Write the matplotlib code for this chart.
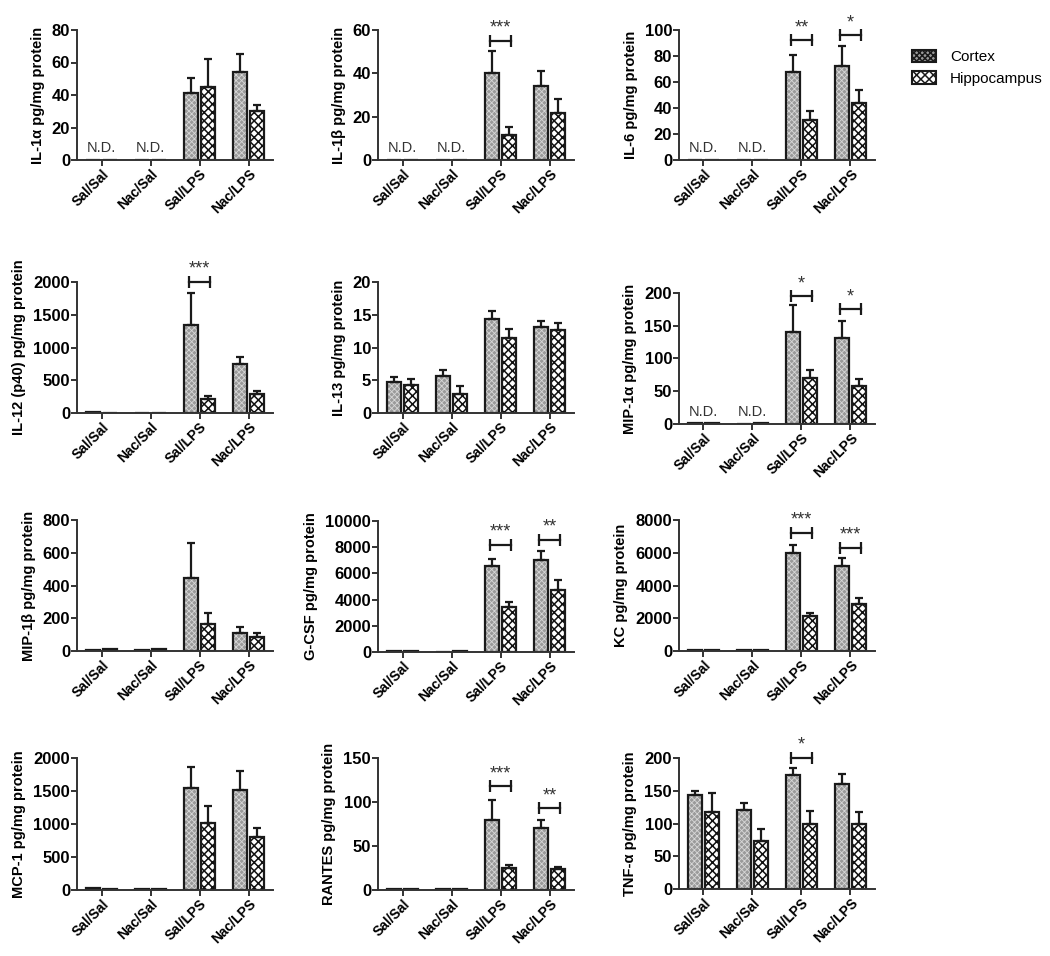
import numpy as np
import matplotlib
matplotlib.use("Agg")
import matplotlib.pyplot as plt
from matplotlib.patches import Patch

plt.rcParams['font.family'] = ['Liberation Sans', 'DejaVu Sans']
plt.rcParams['hatch.linewidth'] = 1.0

groups = ['Sal/Sal', 'Nac/Sal', 'Sal/LPS', 'Nac/LPS']

# mean / SEM (0 = not detected)
il1a_ctx = [0, 0, 41, 54]
il1a_ctx_err = [0, 0, 9.5, 11.5]
il1a_hip = [0, 0, 45, 30]
il1a_hip_err = [0, 0, 17, 4]

il1b_ctx = [0, 0, 40, 34]
il1b_ctx_err = [0, 0, 10.5, 7]
il1b_hip = [0, 0, 11.5, 21.5]
il1b_hip_err = [0, 0, 3.8, 6.5]

il6_ctx = [0, 0, 68, 72]
il6_ctx_err = [0, 0, 13, 16]
il6_hip = [0, 0, 31, 43.5]
il6_hip_err = [0, 0, 6.5, 10]

il12_ctx = [8, 6, 1350, 750]
il12_ctx_err = [0, 0, 480, 105]
il12_hip = [6, 0, 220, 290]
il12_hip_err = [0, 0, 35, 50]

il13_ctx = [4.8, 5.6, 14.4, 13.1]
il13_ctx_err = [0.7, 0.9, 1.2, 1.0]
il13_hip = [4.2, 2.9, 11.4, 12.7]
il13_hip_err = [1.0, 1.2, 1.5, 1.1]

mip1a_ctx = [1, 0, 141, 132]
mip1a_ctx_err = [0, 0, 40, 25]
mip1a_hip = [1, 1, 70, 58]
mip1a_hip_err = [0, 0, 13, 10]

mip1b_ctx = [5, 4, 447, 110]
mip1b_ctx_err = [0, 0, 210, 37]
mip1b_hip = [10, 10, 163, 84]
mip1b_hip_err = [0, 0, 70, 28]

gcsf_ctx = [80, 0, 6550, 7000]
gcsf_ctx_err = [0, 0, 550, 700]
gcsf_hip = [80, 80, 3450, 4750]
gcsf_hip_err = [0, 0, 400, 750]

kc_ctx = [80, 50, 6000, 5200]
kc_ctx_err = [0, 0, 450, 450]
kc_hip = [80, 50, 2150, 2850]
kc_hip_err = [0, 0, 200, 400]

mcp1_ctx = [25, 10, 1550, 1510]
mcp1_ctx_err = [0, 0, 320, 300]
mcp1_hip = [20, 10, 1020, 810]
mcp1_hip_err = [0, 0, 260, 130]

rantes_ctx = [1.5, 1, 80, 70]
rantes_ctx_err = [0, 0, 22, 10]
rantes_hip = [1.5, 1, 25, 23.5]
rantes_hip_err = [0, 0, 3, 2.5]

tnf_ctx = [143, 121, 174, 160]
tnf_ctx_err = [7, 10, 10, 15]
tnf_hip = [118, 73, 99, 99]
tnf_hip_err = [29, 18, 20, 18]

# (group index, stars, bracket height)
il1b_sig = [(2, '***', 55)]
il6_sig = [(2, '**', 92), (3, '*', 96)]
il12_sig = [(2, '***', 2000)]
mip1a_sig = [(2, '*', 195), (3, '*', 175)]
gcsf_sig = [(2, '***', 8200), (3, '**', 8550)]
kc_sig = [(2, '***', 7200), (3, '***', 6300)]
rantes_sig = [(2, '***', 118), (3, '**', 93)]
tnf_sig = [(2, '*', 200)]

panels = [
    ('IL-1\u03b1 pg/mg protein', il1a_ctx, il1a_ctx_err, il1a_hip, il1a_hip_err, 80, 20, [], True),
    ('IL-1\u03b2 pg/mg protein', il1b_ctx, il1b_ctx_err, il1b_hip, il1b_hip_err, 60, 20, il1b_sig, True),
    ('IL-6 pg/mg protein', il6_ctx, il6_ctx_err, il6_hip, il6_hip_err, 100, 20, il6_sig, True),
    ('IL-12 (p40) pg/mg protein', il12_ctx, il12_ctx_err, il12_hip, il12_hip_err, 2000, 500, il12_sig, False),
    ('IL-13 pg/mg protein', il13_ctx, il13_ctx_err, il13_hip, il13_hip_err, 20, 5, [], False),
    ('MIP-1\u03b1 pg/mg protein', mip1a_ctx, mip1a_ctx_err, mip1a_hip, mip1a_hip_err, 200, 50, mip1a_sig, True),
    ('MIP-1\u03b2 pg/mg protein', mip1b_ctx, mip1b_ctx_err, mip1b_hip, mip1b_hip_err, 800, 200, [], False),
    ('G-CSF pg/mg protein', gcsf_ctx, gcsf_ctx_err, gcsf_hip, gcsf_hip_err, 10000, 2000, gcsf_sig, False),
    ('KC pg/mg protein', kc_ctx, kc_ctx_err, kc_hip, kc_hip_err, 8000, 2000, kc_sig, False),
    ('MCP-1 pg/mg protein', mcp1_ctx, mcp1_ctx_err, mcp1_hip, mcp1_hip_err, 2000, 500, [], False),
    ('RANTES pg/mg protein', rantes_ctx, rantes_ctx_err, rantes_hip, rantes_hip_err, 150, 50, rantes_sig, False),
    ('TNF-\u03b1 pg/mg protein', tnf_ctx, tnf_ctx_err, tnf_hip, tnf_hip_err, 200, 50, tnf_sig, False),
]

W, H = 1050, 956
fig = plt.figure(figsize=(W / 100, H / 100), dpi=100)

col_left = [77, 378, 679]
row_box = [[(30, 160)] * 3,
           [(282, 413), (282, 413), (293, 424)],
           [(520, 651), (521, 652), (520, 651)],
           [(758, 890), (758, 890), (758, 889)]]
ax_w = 196

ctx_face, ctx_hatch = '#9a9a9a', '#d8d8d8'
hip_face, hip_hatch = 'white', '#111111'
bw = 0.28
off = 0.18
x = np.arange(len(groups))

for i, (label, c, ce, h, he, ymax, step, sig, nd) in enumerate(panels):
    r, cidx = divmod(i, 3)
    top, bot = row_box[r][cidx]
    ax = fig.add_axes([col_left[cidx] / W, 1 - bot / H, ax_w / W, (bot - top) / H])

    c = np.array(c, float)
    h = np.array(h, float)
    plt.rcParams['hatch.linewidth'] = 0.6
    ax.bar(x - off, c, bw, facecolor=ctx_face, edgecolor=ctx_hatch, hatch='xxxxxx', linewidth=0)
    plt.rcParams['hatch.linewidth'] = 1.1
    ax.bar(x + off, h, bw, facecolor=hip_face, edgecolor=hip_hatch, hatch='xxxx', linewidth=0)
    ax.bar(x - off, c, bw, fill=False, edgecolor='#1a1a1a', linewidth=1.6)
    ax.bar(x + off, h, bw, fill=False, edgecolor='#1a1a1a', linewidth=1.6)

    for xs, m, e in ((x - off, c, ce), (x + off, h, he)):
        e = np.array(e, float)
        mask = e > 0
        ax.errorbar(xs[mask], m[mask], yerr=[np.zeros(mask.sum()), e[mask]], fmt='none',
                    ecolor='#1a1a1a', elinewidth=1.6, capsize=3, capthick=1.6)

    if nd:
        for g in (0, 1):
            ax.text(g, ymax * 0.04, 'N.D.', ha='center', va='bottom', fontsize=10.5, color='#333333')

    for g, stars, yb in sig:
        ax.plot([g - 0.22, g + 0.22], [yb, yb], color='#1a1a1a', lw=1.6, clip_on=False)
        ax.plot([g - 0.22, g + 0.22], [yb, yb], ls='none', marker='|', ms=8, mew=1.6,
                color='#1a1a1a', clip_on=False)
        ax.annotate(stars, (g, yb), xytext=(0, 3), textcoords='offset points',
                    ha='center', va='bottom', fontsize=13, color='#333333', annotation_clip=False)

    ax.set_xlim(-0.5, 3.5)
    ax.set_ylim(0, ymax)
    ax.set_yticks(np.arange(0, ymax + step / 2, step))
    ax.set_xticks(x)
    ax.set_xticklabels(groups, rotation=45, ha='right', rotation_mode='anchor',
                       fontsize=10, fontweight='bold')
    for t in ax.get_yticklabels():
        t.set_fontweight('bold')
        t.set_fontsize(12)
    ax.set_ylabel(label, fontsize=10.5, fontweight='bold', labelpad=5)
    for s in ('top', 'right'):
        ax.spines[s].set_visible(False)
    for s in ('left', 'bottom'):
        ax.spines[s].set_linewidth(1.4)
        ax.spines[s].set_color('#333333')
    ax.tick_params(axis='both', length=4, width=1.4, color='#333333', pad=1)

plt.rcParams['hatch.linewidth'] = 0.6
h1 = Patch(facecolor=ctx_face, edgecolor='#1a1a1a', hatch='xxxxxx', linewidth=1.5, label='Cortex')
plt.rcParams['hatch.linewidth'] = 1.1
h2 = Patch(facecolor=hip_face, edgecolor='#1a1a1a', hatch='xxxx', linewidth=1.5, label='Hippocampus')
fig.legend(handles=[h1, h2], loc='upper left', bbox_to_anchor=(898 / W, 1 - 36 / H),
           frameon=False, fontsize=11, handlelength=1.6, handleheight=0.9,
           handletextpad=0.9, labelspacing=0.45)

fig.savefig('out.png', dpi=100)
